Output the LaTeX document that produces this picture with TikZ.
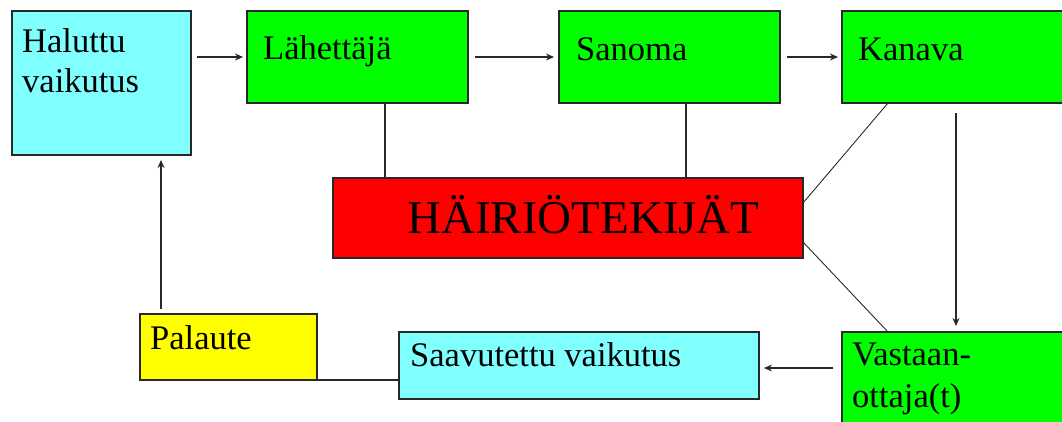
\documentclass[tikz,border=0pt]{standalone}
\usepackage{fontspec}
\setmainfont{Liberation Serif}
\usetikzlibrary{calc,arrows.meta}
\definecolor{cyanbox}{RGB}{128,255,255}
\definecolor{greenbox}{RGB}{0,255,0}
\definecolor{redbox}{RGB}{255,0,0}
\definecolor{yellowbox}{RGB}{255,255,0}
\definecolor{edge}{RGB}{40,40,40}
\tikzset{
  box/.style={draw=edge, line width=1.4pt, anchor=north west, inner sep=0pt, outer sep=0pt},
  txt/.style={anchor=base west, inner sep=0pt, font=\fontsize{34.5}{40}\selectfont},
  conn/.style={draw=edge, line width=1.2pt},
  arr/.style={conn, -{Stealth[length=8pt,width=7pt]}}
}
\begin{document}
\begin{tikzpicture}[x=1pt,y=-1pt]
\useasboundingbox (0,0) rectangle (1062,421);
% boxes
\node[box, fill=cyanbox, minimum width=179pt, minimum height=144pt] (hal) at (12,11) {};
\node[box, fill=greenbox, minimum width=221pt, minimum height=92pt] (lah) at (247,11) {};
\node[box, fill=greenbox, minimum width=221pt, minimum height=92pt] (san) at (559,11) {};
\node[box, fill=greenbox, minimum width=230pt, minimum height=92pt] (kan) at (842,11) {};
\node[box, fill=redbox, minimum width=470pt, minimum height=80pt] (red) at (333,178) {};
\node[box, fill=yellowbox, minimum width=177pt, minimum height=66pt] (pal) at (140,314) {};
\node[box, fill=cyanbox, minimum width=360pt, minimum height=67pt] (saa) at (399,332) {};
\node[box, fill=greenbox, minimum width=230pt, minimum height=100pt] (vas) at (842,332) {};
% texts
\node[txt] (t1) at (22,52) {Haluttu};
\node[txt] (t2) at (22,92) {vaikutus};
\node[txt] (t3) at (263,59) {Lähettäjä};
\node[txt] (t4) at (576,60) {Sanoma};
\node[txt] (t5) at (858,60) {Kanava};
\node[txt, font=\fontsize{47}{56}\selectfont] (t6) at (407,233) {HÄIRIÖTEKIJÄT};
\node[txt] (t7) at (150,349) {Palaute};
\node[txt] (t8) at (410,366) {Saavutettu vaikutus};
\node[txt] (t9) at (852,365) {Vastaan-};
\node[txt] (t10) at (852,407) {ottaja(t)};
% connectors
\draw[arr] ($(hal.north east)+(6,46)$) -- ($(lah.north west)+(-4,46)$);
\draw[arr] ($(lah.north east)+(7,46)$) -- ($(san.north west)+(-5,46)$);
\draw[arr] ($(san.north east)+(7,46)$) -- ($(kan.north west)+(-4,46)$);
\draw[conn] ($(lah.south west)+(138,0)$) -- ($(red.north west)+(52,0)$);
\draw[conn] ($(san.south west)+(127,0)$) -- ($(red.north west)+(353,0)$);
\draw[conn, line width=0.9pt] ($(kan.south west)+(46,0)$) -- ($(red.north east)+(0,25)$);
\draw[conn, line width=0.9pt] ($(red.north east)+(0,64)$) -- ($(vas.north west)+(46,0)$);
\draw[arr] ($(kan.south west)+(114,10)$) -- ($(vas.north west)+(114,-6)$);
\draw[arr] ($(vas.north west)+(-9,36)$) -- ($(saa.north east)+(5,36)$);
\draw[conn] (pal.south east) -- (saa.west |- pal.south);
\draw[arr] ($(pal.north west)+(21,-5)$) -- ($(hal.south west)+(149,5)$);
\end{tikzpicture}
\end{document}
